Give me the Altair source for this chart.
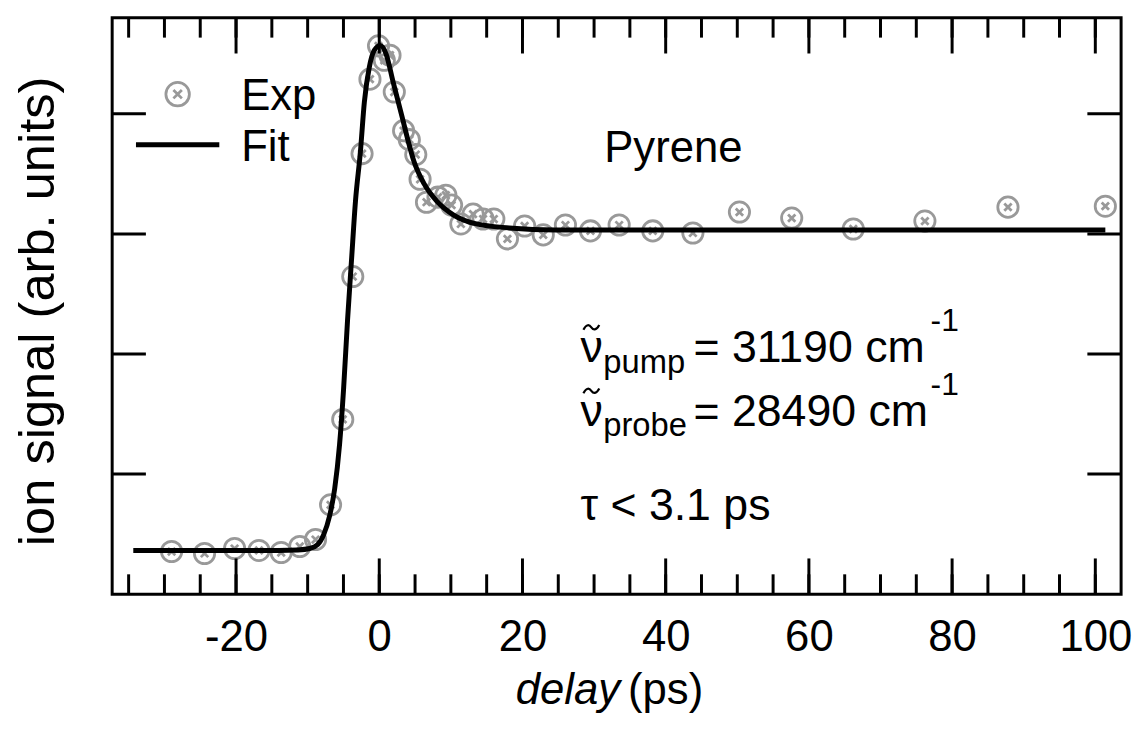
import altair as alt
import pandas as pd

# ---- data ----
exp_delay = [-29.0, -24.4, -20.2, -16.8, -13.7, -11.1, -8.9, -6.8, -5.1, -3.7,
             -2.4, -1.3, -0.1, 0.7, 1.5, 2.1, 3.4, 4.2, 5.1, 5.7,
             6.6, 8.2, 9.3, 10.1, 11.4, 13.1, 14.5, 16.0, 17.9, 20.3,
             22.9, 26.0, 29.5, 33.5, 38.2, 43.8, 50.3, 57.6, 66.2, 76.2,
             87.8, 101.4]
exp_signal = [0.355, 0.339, 0.380, 0.364, 0.347, 0.397, 0.455, 0.744, 1.455, 2.645,
              3.669, 4.289, 4.566, 4.446, 4.488, 4.182, 3.860, 3.785, 3.661, 3.455,
              3.264, 3.306, 3.322, 3.240, 3.083, 3.165, 3.124, 3.124, 2.959, 3.066,
              2.992, 3.074, 3.025, 3.074, 3.025, 3.008, 3.182, 3.132, 3.041, 3.107,
              3.223, 3.231]

fit_delay = [-34.35, -14.1, -11.36, -9.70, -8.59, -7.76, -6.93, -6.23, -5.54, -4.99,
             -4.43, -3.88, -3.32, -2.63, -2.08, -1.39, -0.69, 0.14, 0.97, 1.94,
             3.19, 3.88, 4.85, 6.23, 8.03, 10.39, 13.57, 18.14, 24.65, 101.4]
fit_signal = [0.364, 0.364, 0.368, 0.380, 0.413, 0.496, 0.653, 0.876, 1.248, 1.702,
              2.281, 2.777, 3.273, 3.686, 4.099, 4.388, 4.529, 4.570, 4.496, 4.264,
              3.975, 3.810, 3.603, 3.421, 3.273, 3.157, 3.083, 3.050, 3.033, 3.033]

x_major = [-20, 0, 20, 40, 60, 80, 100]
x_minor = [-35, -30, -25, -20, -15, -10, -5, 0, 5, 10, 15, 20, 25, 30, 35, 40, 45,
           50, 55, 60, 65, 70, 75, 80, 85, 90, 95, 100]
y_major = [1, 2, 3, 4]

W, H = 1017, 581
FONT = "Liberation Sans"
FS = 44
GRAY = "#999999"

xs = alt.Scale(domain=[-37.3, 103.6], nice=False, zero=False)
ys = alt.Scale(domain=[0, 4.8], nice=False, zero=False)

exp_df = pd.DataFrame({"delay": exp_delay, "signal": exp_signal})
fit_df = pd.DataFrame({"delay": fit_delay, "signal": fit_signal})
xmaj_df = pd.DataFrame({"v": x_major})
xmin_df = pd.DataFrame({"v": x_minor})
ymaj_df = pd.DataFrame({"v": y_major})

marker = ("M-1,0A1,1,0,1,1,1,0A1,1,0,1,1,-1,0"
          "M-0.36,-0.36L0.36,0.36M-0.36,0.36L0.36,-0.36")
tilde = "M-1,0.3C-0.6,-0.45,-0.25,-0.35,0,0C0.25,0.35,0.6,0.45,1,-0.3"

x_axis = alt.Axis(values=x_major, ticks=False, domain=False, grid=False, title=None,
                  labelExpr="'' + datum.value",
                  labelFont=FONT, labelFontSize=FS, labelColor="black",
                  labelPadding=22, labelFlush=False, labelOverlap=False)

points = alt.Chart(exp_df).mark_point(
    shape=marker, size=420, filled=False, stroke=GRAY, strokeWidth=2.8, opacity=1
).encode(
    x=alt.X("delay:Q", scale=xs, axis=x_axis),
    y=alt.Y("signal:Q", scale=ys, axis=None),
)

fit = alt.Chart(fit_df).mark_line(color="black", strokeWidth=5, interpolate="monotone").encode(
    x=alt.X("delay:Q", scale=xs),
    y=alt.Y("signal:Q", scale=ys, axis=None),
)

def xticks(df, top, length):
    if top:
        yv, y2v = alt.value(0), alt.value(length)
    else:
        yv, y2v = alt.value(H), alt.value(H - length)
    return alt.Chart(df).mark_rule(color="black", strokeWidth=3).encode(
        x=alt.X("v:Q", scale=xs), y=yv, y2=y2v)

def yticks(df, left, length):
    if left:
        xv, x2v = alt.value(0), alt.value(length)
    else:
        xv, x2v = alt.value(W), alt.value(W - length)
    return alt.Chart(df).mark_rule(color="black", strokeWidth=3).encode(
        y=alt.Y("v:Q", scale=ys, axis=None), x=xv, x2=x2v)

ticks = [
    xticks(xmin_df, False, 20), xticks(xmaj_df, False, 36),
    xticks(xmin_df, True, 20), xticks(xmaj_df, True, 36),
    yticks(ymaj_df, True, 34), yticks(ymaj_df, False, 34),
]

one = alt.Data(values=[{"a": 1}])

def label(text, x, y, size=FS, style="normal", angle=0, align="left", baseline="alphabetic"):
    kw = dict(text=text, font=FONT, fontSize=size, fontStyle=style, color="black",
              align=align, baseline=baseline)
    if angle:
        kw["angle"] = angle
    return alt.Chart(one).mark_text(**kw).encode(x=alt.value(x), y=alt.value(y))

def tilde_mark(x, y):
    return alt.Chart(one).mark_point(
        shape=tilde, size=256, filled=False, stroke="black", strokeWidth=2.2, opacity=1
    ).encode(x=alt.value(x), y=alt.value(y))

# legend
legend_marker = alt.Chart(one).mark_point(
    shape=marker, size=560, filled=False, stroke=GRAY, strokeWidth=2.8, opacity=1
).encode(x=alt.value(66), y=alt.value(77))
legend_line = alt.Chart(one).mark_rule(color="black", strokeWidth=5).encode(
    x=alt.value(24), x2=alt.value(108), y=alt.value(128))

texts = [
    label("Exp", 130, 93),
    label("Fit", 130, 144),
    label("Pyrene", 496, 145),
    # line 1
    label("\u03bd", 472, 347, size=45),
    label("pump", 495, 358, size=33),
    label("= 31190 cm", 586, 347, size=45),
    label("-1", 825, 316, size=32),
    # line 2
    label("\u03bd", 472, 411, size=45),
    label("probe", 495, 422, size=33),
    label("= 28490 cm", 586, 411, size=45),
    label("-1", 825, 380, size=32),
    label("\u03c4 < 3.1 ps", 472, 506, size=45),
    # axis titles
    label("delay", 512, 692, style="italic", align="right"),
    label("(ps)", 520, 692),
    label("ion signal (arb. units)", -74, 296, size=51, angle=270, align="center",
          baseline="middle"),
]

tildes = [tilde_mark(483, 312), tilde_mark(483, 376)]

chart = alt.layer(
    points, fit, *ticks, legend_marker, legend_line, *tildes, *texts
).properties(
    width=W, height=H,
    autosize=alt.AutoSizeParams(type="none"),
    padding={"left": 105, "top": 7, "right": 12, "bottom": 125},
).configure_view(stroke="black", strokeWidth=3)

chart.save("out.html", embed_options={"renderer": "svg", "actions": False})
